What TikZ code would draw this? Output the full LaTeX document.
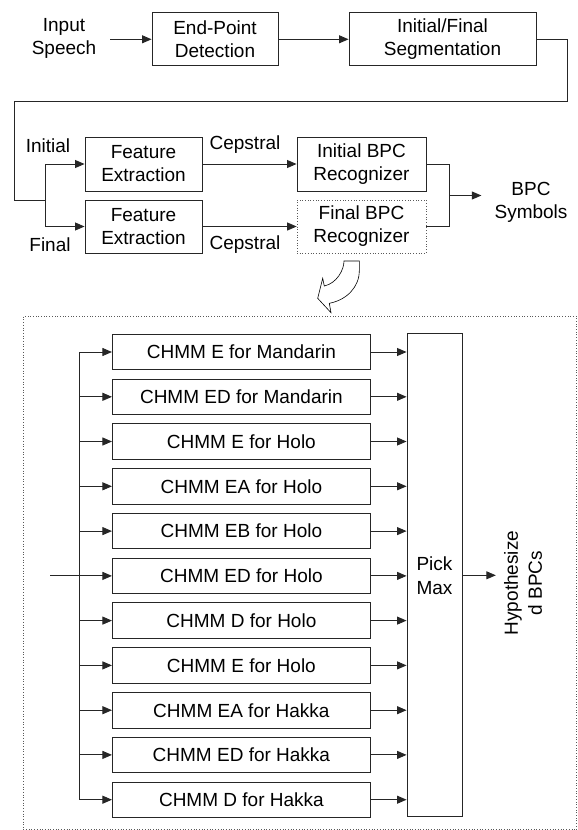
\documentclass[tikz,border=0pt]{standalone}
\usepackage{fontspec}
\setmainfont{Liberation Sans}
\usetikzlibrary{arrows.meta,calc,positioning}
\tikzset{
  wire/.style={draw=black!85, line width=0.9pt},
  flow/.style={wire, -{Triangle[length=9.5pt,width=8pt]}},
  stage/.style={draw=black!85, line width=0.9pt, fill=white,
                inner sep=0pt, align=center,
                font=\fontsize{19}{23}\selectfont},
  stagedot/.style={stage, draw=black!65, line width=0.7pt, dotted},
  model/.style={stage, minimum width=258pt, minimum height=35.5pt},
  lab/.style={align=center, inner sep=2pt, font=\fontsize{19}{23}\selectfont},
  frame/.style={draw=black!65, line width=0.7pt, dotted},
  hollow/.style={draw=black, line width=0.6pt, fill=white},
}

\begin{document}
\begin{tikzpicture}[x=1pt,y=-1pt]
  \path[use as bounding box] (0,0) rectangle (578,830);

  % front end
  \node[lab] (speech) at (64,38.5) {Input\\Speech};
  \node[stage, minimum width=126pt, minimum height=53pt] (endpt) at (215,39.3)
    {End-Point\\Detection};
  \node[stage, minimum width=187pt, minimum height=53pt] (seg) at (442.5,39.3)
    {Initial/Final\\Segmentation};
  \coordinate (speechend) at (110,39.3);
  \draw[flow] (speechend) -- (endpt.west);
  \draw[flow] (endpt.east) -- (seg.west);

  % initial / final branches
  \node[stage, minimum width=117pt, minimum height=54pt] (featI) at (143.5,164)
    {Feature\\Extraction};
  \node[stage, minimum width=117pt, minimum height=53pt] (featF) at (143.5,226.5)
    {Feature\\Extraction};
  \node[stage, minimum width=129pt, minimum height=54pt] (recI) at (361.5,164)
    {Initial BPC\\Recognizer};
  \node[stagedot, minimum width=129pt, minimum height=53pt] (recF) at (361.5,226.5)
    {Final BPC\\Recognizer};
  \node[lab] at (48,146) {Initial};
  \node[lab] at (50,245) {Final};
  \node[lab] at (245,145) {Cepstral};
  \node[lab] at (245,245) {Cepstral};
  \node[lab, inner xsep=13pt] (bpc) at (531,202) {BPC\\Symbols};

  \coordinate (split) at (45,200);
  \draw[wire] (seg.east) -- (567,39.3) -- (567,101) -- (14,101) -- (14,200) -- (split);
  \draw[flow] (split) |- (featI.west);
  \draw[flow] (split) |- (featF.west);
  \draw[flow] (featI.east) -- (recI.west);
  \draw[flow] (featF.east) -- (recF.west);

  \coordinate (join) at (449,195.5);
  \draw[wire] (recI.east) -| (join);
  \draw[wire] (recF.east) -| (join);
  \draw[flow] (join) -- (join -| bpc.west);

  % expansion of the final recognizer
  \draw[hollow] (344,261) -- (359.3,261) -- (359.3,270.7)
    .. controls (359.3,287) and (346.7,300) .. (329.3,303.3)
    -- (331,312.7) -- (317.7,298.3) -- (322.7,278.3) -- (324.3,286)
    .. controls (336.7,283.3) and (344,270) .. cycle;
  \draw[frame] (23,316.7) rectangle (576.8,829.3);

  \node[model] (m1) at (241.4,352.0) {CHMM E for Mandarin};
  \node[model] (m2) at (241.4,396.8) {CHMM ED for Mandarin};
  \node[model] (m3) at (241.4,441.5) {CHMM E for Holo};
  \node[model] (m4) at (241.4,486.3) {CHMM EA for Holo};
  \node[model] (m5) at (241.4,531.1) {CHMM EB for Holo};
  \node[model] (m6) at (241.4,575.9) {CHMM ED for Holo};
  \node[model] (m7) at (241.4,620.6) {CHMM D for Holo};
  \node[model] (m8) at (241.4,665.4) {CHMM E for Holo};
  \node[model] (m9) at (241.4,710.2) {CHMM EA for Hakka};
  \node[model] (m10) at (241.4,754.9) {CHMM ED for Hakka};
  \node[model] (m11) at (241.4,799.7) {CHMM D for Hakka};
  \node[stage, minimum width=55pt, minimum height=483pt,
        font=\fontsize{19}{24}\selectfont] (pick) at (434.5,575.3) {Pick\\Max};
  \node[lab, rotate=90, font=\fontsize{19}{24}\selectfont, inner sep=8pt] (hyp)
    at (523,583) {Hypothesize\\d BPCs};

  \coordinate (feed) at (50,575.9);
  \coordinate (bus) at (79,575.9);
  \draw[wire] (feed) -- (bus);
  \draw[wire] (bus |- m1.west) -- (bus |- m11.west);
  \draw[flow] (bus |- m1.west) -- (m1.west);
  \draw[flow] (bus |- m2.west) -- (m2.west);
  \draw[flow] (bus |- m3.west) -- (m3.west);
  \draw[flow] (bus |- m4.west) -- (m4.west);
  \draw[flow] (bus |- m5.west) -- (m5.west);
  \draw[flow] (bus |- m6.west) -- (m6.west);
  \draw[flow] (bus |- m7.west) -- (m7.west);
  \draw[flow] (bus |- m8.west) -- (m8.west);
  \draw[flow] (bus |- m9.west) -- (m9.west);
  \draw[flow] (bus |- m10.west) -- (m10.west);
  \draw[flow] (bus |- m11.west) -- (m11.west);
  \draw[flow] (m1.east) -- (m1.east -| pick.west);
  \draw[flow] (m2.east) -- (m2.east -| pick.west);
  \draw[flow] (m3.east) -- (m3.east -| pick.west);
  \draw[flow] (m4.east) -- (m4.east -| pick.west);
  \draw[flow] (m5.east) -- (m5.east -| pick.west);
  \draw[flow] (m6.east) -- (m6.east -| pick.west);
  \draw[flow] (m7.east) -- (m7.east -| pick.west);
  \draw[flow] (m8.east) -- (m8.east -| pick.west);
  \draw[flow] (m9.east) -- (m9.east -| pick.west);
  \draw[flow] (m10.east) -- (m10.east -| pick.west);
  \draw[flow] (m11.east) -- (m11.east -| pick.west);
  \draw[flow] (pick.east) -- (pick.east -| hyp.north);
\end{tikzpicture}
\end{document}
